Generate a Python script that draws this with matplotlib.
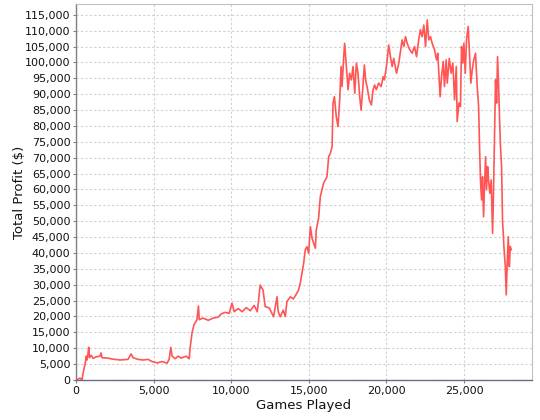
import matplotlib
matplotlib.use("Agg")
import matplotlib.pyplot as plt
from matplotlib.ticker import FuncFormatter, MultipleLocator

games = [0, 260, 390, 450, 580, 665, 710, 775, 820, 870, 970, 1100, 1290,
         1550, 1610, 1680, 2060, 2320, 2840, 3350, 3550, 3680, 4000, 4320,
         4650, 4900, 5230, 5550, 5870, 6000, 6110, 6190, 6390, 6580, 6770,
         7100, 7290, 7350, 7480, 7610, 7790, 7890, 7940, 8190, 8520, 8840,
         9160, 9350, 9610, 9870, 10050, 10190, 10450, 10710, 10970, 11230,
         11480, 11680, 11870, 12050, 12190, 12450, 12730, 12950, 13030,
         13160, 13350, 13480, 13590, 13810, 14000, 14190, 14340, 14450,
         14670, 14770, 14880, 14990, 15100, 15210, 15420, 15480, 15630,
         15740, 15850, 15950, 16060, 16170, 16280, 16390, 16500, 16560,
         16650, 16770, 16880, 16990, 17080, 17140, 17250, 17310, 17420,
         17530, 17630, 17740, 17850, 17960, 18065, 18170, 18280, 18370,
         18470, 18580, 18660, 18790, 18900, 19030, 19140, 19240, 19350,
         19500, 19660, 19790, 19870, 20000, 20150, 20260, 20370, 20470,
         20650, 20800, 21010, 21120, 21230, 21340, 21500, 21660, 21810,
         21940, 22080, 22190, 22300, 22410, 22520, 22630, 22730, 22840,
         22950, 23100, 23230, 23310, 23400, 23460, 23550, 23660, 23740,
         23850, 23920, 24050, 24170, 24280, 24390, 24500, 24560, 24670,
         24770, 24840, 24920, 24990, 25080, 25160, 25270, 25350, 25440,
         25530, 25630, 25740, 25850, 25940, 26000, 26060, 26130, 26190,
         26260, 26320, 26390, 26450, 26520, 26580, 26660, 26750, 26840,
         26900, 26970, 27030, 27100, 27160, 27230, 27290, 27350, 27420,
         27480, 27570, 27660, 27720, 27790, 27850, 27920, 27980, 28040]

profit = [0, 600, 0, 2000, 5000, 7500, 6300, 8500, 10300, 7000, 7800, 6800,
          7300, 7500, 8500, 7000, 6900, 6600, 6300, 6500, 8200, 7000, 6500,
          6300, 6500, 5800, 5400, 5800, 5300, 6500, 10300, 7500, 6700, 7500,
          6900, 7500, 6700, 10000, 15000, 17500, 18900, 23300, 19000, 19500,
          18800, 19500, 19800, 20800, 21300, 21000, 24200, 21500, 22500,
          21500, 22800, 21800, 23500, 21500, 29900, 28300, 23100, 22700,
          19900, 26200, 21500, 19900, 22000, 20000, 24700, 26200, 25500,
          27000, 28300, 30500, 36800, 41000, 42000, 39900, 48300, 44600,
          41500, 47300, 50900, 57700, 59900, 62000, 63000, 64000, 70300,
          71400, 73500, 87200, 89200, 82900, 79800, 88200, 98700, 92400,
          101800, 106000, 98700, 91400, 96600, 94500, 98700, 90300, 99800,
          96600, 89200, 85000, 91400, 99200, 94500, 91400, 88200, 86600,
          91400, 92900, 91400, 93500, 92400, 95500, 94500, 98700, 105500,
          101800, 98700, 101300, 96600, 99800, 107100, 105000, 108100,
          106000, 104000, 102900, 105000, 101800, 107100, 110300, 108100,
          111800, 105000, 113400, 107100, 108100, 106000, 104000, 100800,
          102900, 94500, 89200, 95500, 100300, 92400, 100800, 93500, 101300,
          96600, 99800, 88200, 98700, 81400, 87200, 86100, 105000, 99800,
          106000, 96600, 107100, 111300, 102900, 93500, 97700, 100800,
          102900, 92400, 86100, 73500, 63000, 56700, 64000, 51400, 60900,
          70300, 59900, 67200, 63000, 58800, 63000, 46200, 58800, 77700,
          94500, 87200, 101800, 92400, 81900, 73500, 67200, 50400, 42000,
          35700, 26800, 37800, 45100, 35700, 42000, 41000]

fig = plt.figure(figsize=(5.4, 4.2), dpi=100)
ax = fig.add_axes([76 / 540, 1 - 380 / 420, 456 / 540, 376 / 420])

ax.plot(games, profit, color="#FF5555", linewidth=1.2)

ax.set_xlim(0, 29380)
ax.set_ylim(0, 118400)
ax.xaxis.set_major_locator(MultipleLocator(5000))
ax.yaxis.set_major_locator(MultipleLocator(5000))
fmt = FuncFormatter(lambda v, p: f"{int(v):,}")
ax.xaxis.set_major_formatter(fmt)
ax.yaxis.set_major_formatter(fmt)

ax.grid(True, color="#d0d0d0", linestyle=(0, (2, 2)), linewidth=0.8)
ax.set_axisbelow(True)

for s in ["top", "right"]:
    ax.spines[s].set_color("#c0c0c0")
    ax.spines[s].set_linewidth(0.8)
ax.spines["left"].set_color("#808080")
ax.spines["bottom"].set_color("#6c6c8a")
ax.spines["left"].set_linewidth(1.0)
ax.spines["bottom"].set_linewidth(1.0)

ax.tick_params(axis="both", length=2, width=0.8, color="#808080",
               labelsize=8, labelcolor="#111111", pad=2)
ax.set_xlabel("Games Played", fontsize=9.5, color="#111111")
ax.set_ylabel("Total Profit ($)", fontsize=9.5, color="#111111")
ax.xaxis.set_label_coords(0.5, -0.05)
ax.yaxis.set_label_coords(-0.11, 0.5)

fig.savefig("out.png", dpi=100)
